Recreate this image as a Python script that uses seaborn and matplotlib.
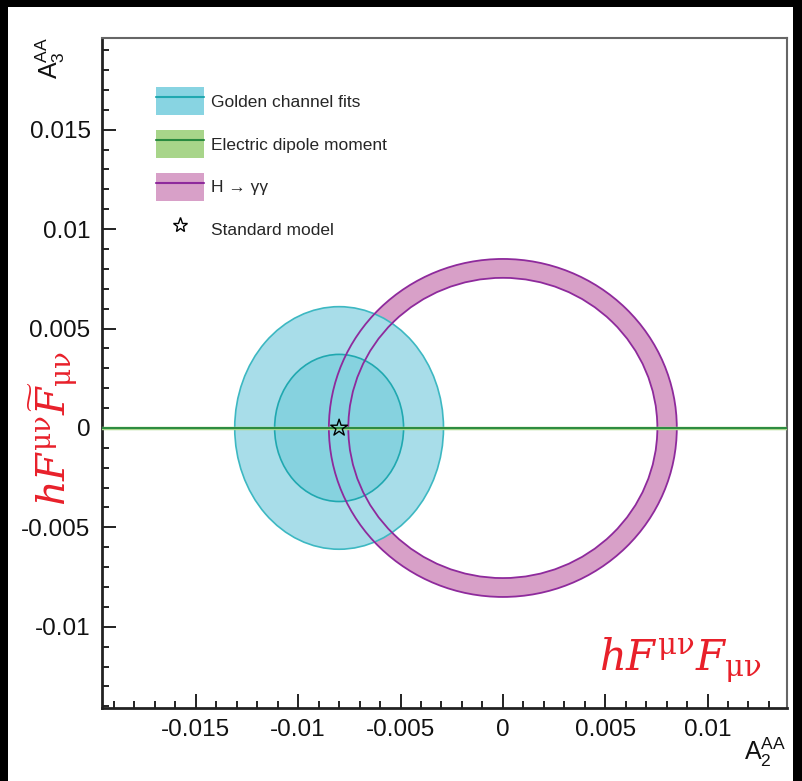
import matplotlib
matplotlib.use("Agg")
import matplotlib.pyplot as plt
import seaborn as sns
import numpy as np
import pandas as pd
from matplotlib.patches import Ellipse, Annulus, Circle, Patch, Rectangle
from matplotlib.lines import Line2D
from matplotlib.legend_handler import HandlerTuple
from matplotlib.ticker import MultipleLocator, FormatStrFormatter

# golden channel fit ellipses (centre, semi axes) - outer and inner
gc_center = (-0.008, 0.0)
gc_semi_x = [0.0051, 0.00315]
gc_semi_y = [0.0061, 0.0037]
# H -> gamma gamma ring
hgg_center = (0.0, 0.0)
hgg_r_in = 0.00755
hgg_r_out = 0.0085
# edm band (very thin)
edm_y = [0.0, 0.0]
edm_x = [-0.0196, 0.0139]
# standard model point
sm = pd.DataFrame({"x": [-0.008], "y": [0.0]})

x_ticks = [-0.015, -0.01, -0.005, 0, 0.005, 0.01]
y_ticks = [-0.01, -0.005, 0, 0.005, 0.01, 0.015]
xlim = (-0.0196, 0.0139)
ylim = (-0.0141, 0.0196)

legend_labels = ["Golden channel fits", "Electric dipole moment",
                 "H \u2192 \u03b3\u03b3", "Standard model"]

sns.set_style("white")
plt.rcParams["font.family"] = ["Liberation Sans", "DejaVu Sans"]
plt.rcParams["mathtext.fontset"] = "custom"
plt.rcParams["mathtext.rm"] = "Liberation Sans"
plt.rcParams["mathtext.it"] = "Liberation Sans:italic"

fig = plt.figure(figsize=(8.02, 7.81), dpi=100, facecolor="black")
# white canvas inside the black frame
fig.patches.append(Rectangle((8/802, 0), (793-8)/802, (781-7)/781,
                             transform=fig.transFigure, facecolor="white",
                             edgecolor="none", zorder=-5))
ax = fig.add_axes([0.1268, 0.0931, 0.9817-0.1268, 0.951-0.0931])
ax.set_facecolor("white")

c_out = "#a8dde9"
c_in = "#86d2df"
c_edge = "#3db8c2"
ring_fill = "#d8a0c8"
ring_edge = "#8e2a9c"
green = "#2a8a40"
green_light = "#a8d58a"

# ring fill first
ax.add_patch(Annulus(hgg_center, hgg_r_out, hgg_r_out - hgg_r_in,
                     facecolor=ring_fill, edgecolor="none", zorder=1))
# golden channel ellipses over it
ax.add_patch(Ellipse(gc_center, 2*gc_semi_x[0], 2*gc_semi_y[0],
                     facecolor=c_out, edgecolor=c_edge, lw=1.2, zorder=2))
ax.add_patch(Ellipse(gc_center, 2*gc_semi_x[1], 2*gc_semi_y[1],
                     facecolor=c_in, edgecolor="#20a8b0", lw=1.2, zorder=3))
# ring edges on top
for r in [hgg_r_in, hgg_r_out]:
    ax.add_patch(Circle(hgg_center, r, facecolor="none", edgecolor=ring_edge,
                        lw=1.3, zorder=4))

# edm line
sns.lineplot(x=edm_x, y=edm_y, color=green_light, lw=2.5, ax=ax, zorder=5)
sns.lineplot(x=edm_x, y=edm_y, color=green, lw=1.4, ax=ax, zorder=6)

# SM point
sns.scatterplot(data=sm, x="x", y="y", marker="*", s=160, facecolor="none",
                edgecolor="black", linewidth=1.0, ax=ax, zorder=7)

ax.set_xlim(xlim)
ax.set_ylim(ylim)
ax.set_xticks(x_ticks)
ax.set_yticks(y_ticks)
ax.xaxis.set_minor_locator(MultipleLocator(0.001))
ax.yaxis.set_minor_locator(MultipleLocator(0.001))
ax.xaxis.set_major_formatter(FormatStrFormatter("%g"))
ax.yaxis.set_major_formatter(FormatStrFormatter("%g"))
ax.tick_params(which="both", direction="in", top=False, right=False,
               bottom=True, left=True,
               labelsize=17.5, colors="#111111", pad=8)
ax.tick_params(which="major", length=10, width=1.3)
ax.tick_params(which="minor", length=5, width=1.3)
ax.set_xlabel("")
ax.set_ylabel("")
for s in ["left", "bottom"]:
    ax.spines[s].set_linewidth(2)
    ax.spines[s].set_color("#222222")
for s in ["top", "right"]:
    ax.spines[s].set_linewidth(1.5)
    ax.spines[s].set_color("#666666")

# axis titles, ROOT-like
fig.text(50/802, 1-58/781, r"A$_3^{\mathrm{AA}}$", rotation=90, fontsize=18,
         ha="center", va="center", color="#111111")
fig.text(765/802, 1-752/781, r"A$_2^{\mathrm{AA}}$", fontsize=18,
         ha="center", va="center", color="#111111")

# red operator annotations
fig.text(54/802, 1-428/781, r"$hF^{\mathrm{\mu\nu}}\widetilde{F}_{\mathrm{\mu\nu}}$",
         rotation=90, fontsize=28.5, color="#e8202a", ha="center", va="center",
         math_fontfamily="dejavuserif")
fig.text(680/802, 1-660/781, r"$hF^{\mathrm{\mu\nu}}F_{\mathrm{\mu\nu}}$",
         fontsize=30, color="#e8202a", ha="center", va="center",
         math_fontfamily="dejavuserif")

# legend
handles = [
    (Patch(facecolor="#88d4e2", edgecolor="none"), Line2D([], [], color="#20a8b0", lw=1.5)),
    (Patch(facecolor=green_light, edgecolor="none"), Line2D([], [], color=green, lw=1.5)),
    (Patch(facecolor=ring_fill, edgecolor="none"), Line2D([], [], color=ring_edge, lw=1.5)),
    Line2D([], [], marker="*", ls="none", markerfacecolor="none",
           markeredgecolor="black", markersize=11),
]
ax.legend(handles, legend_labels, handler_map={tuple: HandlerTuple(ndivide=1, pad=0)},
          loc="upper left", bbox_to_anchor=(0.056, 0.95), frameon=False,
          fontsize=12.5, handlelength=2.8, handleheight=2.1, labelspacing=0.85,
          handletextpad=0.4)

fig.savefig("out.png", dpi=100, facecolor=fig.get_facecolor())
